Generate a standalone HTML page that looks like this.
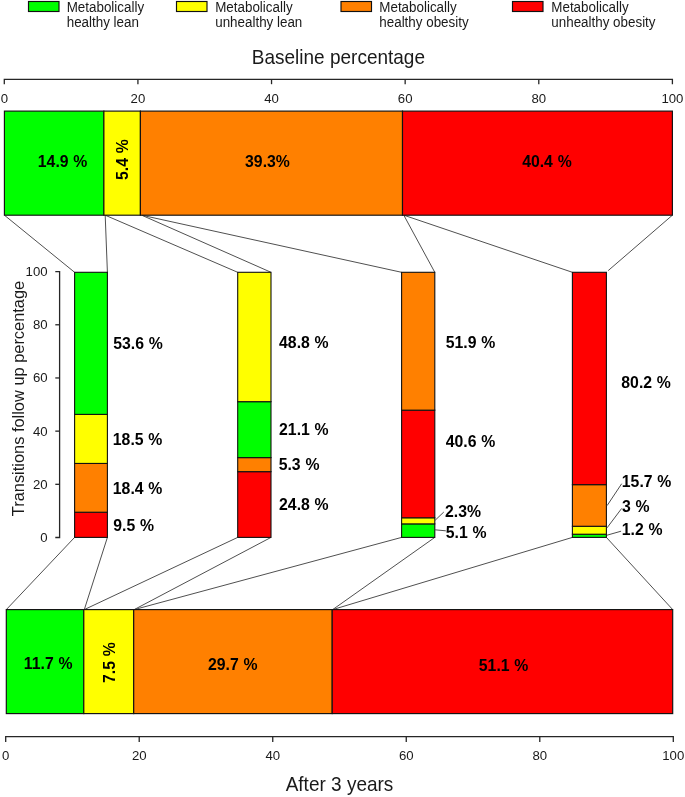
<!DOCTYPE html>
<html><head><meta charset="utf-8"><style>
html,body{margin:0;padding:0;background:#fff;}
svg{display:block;will-change:transform;}
.r{font-family:"Liberation Sans",sans-serif;fill:#1a1a1a;}
.b{font-family:"Liberation Sans",sans-serif;font-weight:bold;fill:#000;word-spacing:0.4px;}
</style></head><body>
<svg width="685" height="797" viewBox="0 0 685 797">
<rect width="685" height="797" fill="#fff"/>
<rect x="28.5" y="1.5" width="30.5" height="10" fill="#00ff00" stroke="#111" stroke-width="1.15"/>
<text transform="translate(66.7,11.6) scale(1,1.08)" class="r" font-size="13.4">Metabolically</text>
<text transform="translate(66.7,26.6) scale(1,1.08)" class="r" font-size="13.4">healthy lean</text>
<rect x="176.5" y="1.5" width="30.5" height="10" fill="#ffff00" stroke="#111" stroke-width="1.15"/>
<text transform="translate(215.2,11.6) scale(1,1.08)" class="r" font-size="13.4">Metabolically</text>
<text transform="translate(215.2,26.6) scale(1,1.08)" class="r" font-size="13.4">unhealthy lean</text>
<rect x="341.0" y="1.5" width="30.5" height="10" fill="#ff8000" stroke="#111" stroke-width="1.15"/>
<text transform="translate(379.3,11.6) scale(1,1.08)" class="r" font-size="13.4">Metabolically</text>
<text transform="translate(379.3,26.6) scale(1,1.08)" class="r" font-size="13.4">healthy obesity</text>
<rect x="512.5" y="1.5" width="30.5" height="10" fill="#ff0000" stroke="#111" stroke-width="1.15"/>
<text transform="translate(551.3000000000001,11.6) scale(1,1.08)" class="r" font-size="13.4">Metabolically</text>
<text transform="translate(551.3000000000001,26.6) scale(1,1.08)" class="r" font-size="13.4">unhealthy obesity</text>
<text transform="translate(338.4,64) scale(1,1.05)" class="r" font-size="19" text-anchor="middle">Baseline percentage</text>
<text transform="translate(339.5,791.3) scale(1,1.05)" class="r" font-size="19" text-anchor="middle">After 3 years</text>
<text transform="translate(23.6,398.5) rotate(-90)" x="0" y="0" class="r" font-size="16.4" text-anchor="middle">Transitions follow up percentage</text>
<path d="M4.3,84.2 V79.3 H672.4 V84.2" fill="none" stroke="#262626" stroke-width="1.3"/>
<text x="4.30" y="102.6" class="r" font-size="13.2" text-anchor="middle">0</text>
<line x1="137.92" y1="79.3" x2="137.92" y2="84.2" stroke="#262626" stroke-width="1.3"/>
<text x="137.92" y="102.6" class="r" font-size="13.2" text-anchor="middle">20</text>
<line x1="271.54" y1="79.3" x2="271.54" y2="84.2" stroke="#262626" stroke-width="1.3"/>
<text x="271.54" y="102.6" class="r" font-size="13.2" text-anchor="middle">40</text>
<line x1="405.16" y1="79.3" x2="405.16" y2="84.2" stroke="#262626" stroke-width="1.3"/>
<text x="405.16" y="102.6" class="r" font-size="13.2" text-anchor="middle">60</text>
<line x1="538.78" y1="79.3" x2="538.78" y2="84.2" stroke="#262626" stroke-width="1.3"/>
<text x="538.78" y="102.6" class="r" font-size="13.2" text-anchor="middle">80</text>
<text x="672.40" y="102.6" class="r" font-size="13.2" text-anchor="middle">100</text>
<path d="M5.7,742 V736.6 H673.3 V742" fill="none" stroke="#262626" stroke-width="1.3"/>
<text x="5.70" y="760.4" class="r" font-size="13.2" text-anchor="middle">0</text>
<line x1="139.22" y1="736.6" x2="139.22" y2="742" stroke="#262626" stroke-width="1.3"/>
<text x="139.22" y="760.4" class="r" font-size="13.2" text-anchor="middle">20</text>
<line x1="272.74" y1="736.6" x2="272.74" y2="742" stroke="#262626" stroke-width="1.3"/>
<text x="272.74" y="760.4" class="r" font-size="13.2" text-anchor="middle">40</text>
<line x1="406.26" y1="736.6" x2="406.26" y2="742" stroke="#262626" stroke-width="1.3"/>
<text x="406.26" y="760.4" class="r" font-size="13.2" text-anchor="middle">60</text>
<line x1="539.78" y1="736.6" x2="539.78" y2="742" stroke="#262626" stroke-width="1.3"/>
<text x="539.78" y="760.4" class="r" font-size="13.2" text-anchor="middle">80</text>
<text x="673.30" y="760.4" class="r" font-size="13.2" text-anchor="middle">100</text>
<path d="M55.3,271.6 H59.6 V537.5 H55.3" fill="none" stroke="#262626" stroke-width="1.3"/>
<text x="47.6" y="542.00" class="r" font-size="13.2" text-anchor="end">0</text>
<line x1="55.3" y1="484.32" x2="59.6" y2="484.32" stroke="#262626" stroke-width="1.3"/>
<text x="47.6" y="488.82" class="r" font-size="13.2" text-anchor="end">20</text>
<line x1="55.3" y1="431.14" x2="59.6" y2="431.14" stroke="#262626" stroke-width="1.3"/>
<text x="47.6" y="435.64" class="r" font-size="13.2" text-anchor="end">40</text>
<line x1="55.3" y1="377.96" x2="59.6" y2="377.96" stroke="#262626" stroke-width="1.3"/>
<text x="47.6" y="382.46" class="r" font-size="13.2" text-anchor="end">60</text>
<line x1="55.3" y1="324.78" x2="59.6" y2="324.78" stroke="#262626" stroke-width="1.3"/>
<text x="47.6" y="329.28" class="r" font-size="13.2" text-anchor="end">80</text>
<text x="47.6" y="276.10" class="r" font-size="13.2" text-anchor="end">100</text>
<line x1="4.4" y1="215.2" x2="74.6" y2="272.3" stroke="#505050" stroke-width="1"/>
<line x1="105.2" y1="215.2" x2="107.4" y2="272.3" stroke="#505050" stroke-width="1"/>
<line x1="74.6" y1="537.4" x2="6.3" y2="609.6" stroke="#505050" stroke-width="1"/>
<line x1="107.4" y1="537.4" x2="84.3" y2="609.6" stroke="#505050" stroke-width="1"/>
<line x1="105.2" y1="215.2" x2="237.7" y2="272.3" stroke="#505050" stroke-width="1"/>
<line x1="141.70000000000002" y1="215.2" x2="271.0" y2="272.3" stroke="#505050" stroke-width="1"/>
<line x1="237.7" y1="537.4" x2="84.3" y2="609.6" stroke="#505050" stroke-width="1"/>
<line x1="271.0" y1="537.4" x2="134.2" y2="609.6" stroke="#505050" stroke-width="1"/>
<line x1="141.70000000000002" y1="215.2" x2="401.6" y2="272.3" stroke="#505050" stroke-width="1"/>
<line x1="403.8" y1="215.2" x2="434.8" y2="272.3" stroke="#505050" stroke-width="1"/>
<line x1="401.6" y1="537.4" x2="134.2" y2="609.6" stroke="#505050" stroke-width="1"/>
<line x1="434.8" y1="537.4" x2="332.7" y2="609.6" stroke="#505050" stroke-width="1"/>
<line x1="403.8" y1="215.2" x2="572.4" y2="272.3" stroke="#505050" stroke-width="1"/>
<line x1="672.4" y1="215.2" x2="608.2" y2="270.6" stroke="#505050" stroke-width="1"/>
<line x1="572.4" y1="537.4" x2="332.7" y2="609.6" stroke="#505050" stroke-width="1"/>
<line x1="606.4" y1="537.4" x2="672.7" y2="609.6" stroke="#505050" stroke-width="1"/>
<rect x="4.4" y="111.1" width="99.50" height="104.10" fill="#00ff00" stroke="#111" stroke-width="1.15"/>
<rect x="103.9" y="111.1" width="36.50" height="104.10" fill="#ffff00" stroke="#111" stroke-width="1.15"/>
<rect x="140.4" y="111.1" width="262.10" height="104.10" fill="#ff8000" stroke="#111" stroke-width="1.15"/>
<rect x="402.5" y="111.1" width="269.90" height="104.10" fill="#ff0000" stroke="#111" stroke-width="1.15"/>
<rect x="6.3" y="609.6" width="77.50" height="104.00" fill="#00ff00" stroke="#111" stroke-width="1.15"/>
<rect x="83.8" y="609.6" width="49.90" height="104.00" fill="#ffff00" stroke="#111" stroke-width="1.15"/>
<rect x="133.7" y="609.6" width="198.50" height="104.00" fill="#ff8000" stroke="#111" stroke-width="1.15"/>
<rect x="332.2" y="609.6" width="340.50" height="104.00" fill="#ff0000" stroke="#111" stroke-width="1.15"/>
<rect x="74.6" y="512.22" width="32.80" height="25.18" fill="#ff0000" stroke="#111" stroke-width="1.1"/>
<rect x="74.6" y="463.44" width="32.80" height="48.78" fill="#ff8000" stroke="#111" stroke-width="1.1"/>
<rect x="74.6" y="414.39" width="32.80" height="49.04" fill="#ffff00" stroke="#111" stroke-width="1.1"/>
<rect x="74.6" y="272.30" width="32.80" height="142.09" fill="#00ff00" stroke="#111" stroke-width="1.1"/>
<rect x="237.7" y="471.66" width="33.30" height="65.74" fill="#ff0000" stroke="#111" stroke-width="1.1"/>
<rect x="237.7" y="457.60" width="33.30" height="14.05" fill="#ff8000" stroke="#111" stroke-width="1.1"/>
<rect x="237.7" y="401.67" width="33.30" height="55.94" fill="#00ff00" stroke="#111" stroke-width="1.1"/>
<rect x="237.7" y="272.30" width="33.30" height="129.37" fill="#ffff00" stroke="#111" stroke-width="1.1"/>
<rect x="401.6" y="523.88" width="33.20" height="13.52" fill="#00ff00" stroke="#111" stroke-width="1.1"/>
<rect x="401.6" y="517.78" width="33.20" height="6.10" fill="#ffff00" stroke="#111" stroke-width="1.1"/>
<rect x="401.6" y="410.15" width="33.20" height="107.63" fill="#ff0000" stroke="#111" stroke-width="1.1"/>
<rect x="401.6" y="272.30" width="33.20" height="137.85" fill="#ff8000" stroke="#111" stroke-width="1.1"/>
<rect x="572.4" y="534.22" width="34.00" height="3.18" fill="#00ff00" stroke="#111" stroke-width="1.1"/>
<rect x="572.4" y="526.27" width="34.00" height="7.95" fill="#ffff00" stroke="#111" stroke-width="1.1"/>
<rect x="572.4" y="484.65" width="34.00" height="41.62" fill="#ff8000" stroke="#111" stroke-width="1.1"/>
<rect x="572.4" y="272.30" width="34.00" height="212.35" fill="#ff0000" stroke="#111" stroke-width="1.1"/>
<text transform="translate(37.84,167.00) scale(1,1.08)" class="b" font-size="15.8">14.9 %</text>
<text transform="translate(245.08,167.16) scale(1,1.08)" class="b" font-size="15.8">39.3%</text>
<text transform="translate(522.16,167.24) scale(1,1.08)" class="b" font-size="15.8">40.4 %</text>
<text transform="translate(128.16,180.00) rotate(-90) scale(1,1.08)" class="b" font-size="15.8">5.4 %</text>
<text transform="translate(23.84,669.48) scale(1,1.08)" class="b" font-size="15.8">11.7 %</text>
<text transform="translate(115.08,682.92) rotate(-90) scale(1,1.08)" class="b" font-size="15.8">7.5 %</text>
<text transform="translate(208.00,670.32) scale(1,1.08)" class="b" font-size="15.8">29.7 %</text>
<text transform="translate(478.84,670.52) scale(1,1.08)" class="b" font-size="15.8">51.1 %</text>
<text transform="translate(113.24,349.16) scale(1,1.08)" class="b" font-size="15.8">53.6 %</text>
<text transform="translate(112.84,445.32) scale(1,1.08)" class="b" font-size="15.8">18.5 %</text>
<text transform="translate(112.84,493.60) scale(1,1.08)" class="b" font-size="15.8">18.4 %</text>
<text transform="translate(113.24,530.60) scale(1,1.08)" class="b" font-size="15.8">9.5 %</text>
<text transform="translate(279.08,347.76) scale(1,1.08)" class="b" font-size="15.8">48.8 %</text>
<text transform="translate(279.08,434.76) scale(1,1.08)" class="b" font-size="15.8">21.1 %</text>
<text transform="translate(278.68,469.52) scale(1,1.08)" class="b" font-size="15.8">5.3 %</text>
<text transform="translate(279.08,510.00) scale(1,1.08)" class="b" font-size="15.8">24.8 %</text>
<text transform="translate(445.76,348.48) scale(1,1.08)" class="b" font-size="15.8">51.9 %</text>
<text transform="translate(445.68,446.76) scale(1,1.08)" class="b" font-size="15.8">40.6 %</text>
<text transform="translate(445.08,516.60) scale(1,1.08)" class="b" font-size="15.8">2.3%</text>
<text transform="translate(445.84,538.24) scale(1,1.08)" class="b" font-size="15.8">5.1 %</text>
<text transform="translate(621.32,387.60) scale(1,1.08)" class="b" font-size="15.8">80.2 %</text>
<text transform="translate(621.84,487.00) scale(1,1.08)" class="b" font-size="15.8">15.7 %</text>
<text transform="translate(622.00,511.60) scale(1,1.08)" class="b" font-size="15.8">3 %</text>
<text transform="translate(621.84,534.60) scale(1,1.08)" class="b" font-size="15.8">1.2 %</text>
<line x1="443.8" y1="512.0" x2="434.8" y2="520.6" stroke="#505050" stroke-width="1"/>
<line x1="445.8" y1="530.8" x2="434.8" y2="529.8" stroke="#505050" stroke-width="1"/>
<line x1="621.7" y1="483.7" x2="607.1" y2="505.6" stroke="#505050" stroke-width="1"/>
<line x1="621.7" y1="508.4" x2="607.0" y2="527.9" stroke="#505050" stroke-width="1"/>
<line x1="621.1" y1="531.2" x2="607.0" y2="535.2" stroke="#505050" stroke-width="1"/>
</svg>
</body></html>
